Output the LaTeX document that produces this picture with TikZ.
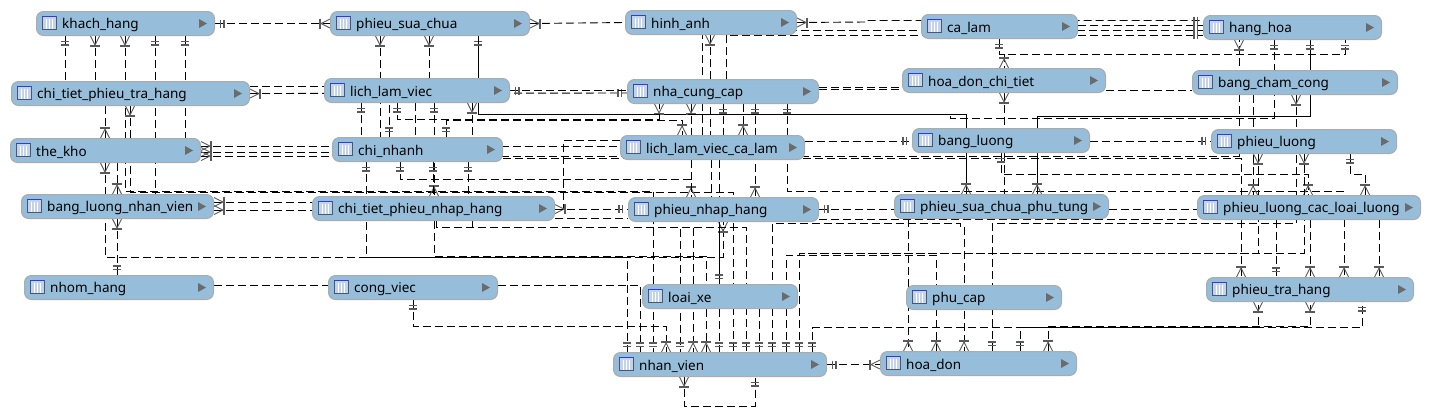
\documentclass[tikz,border=0pt]{standalone}
\usepackage{fontspec}
\setmainfont{Noto Sans}
\usepackage{xcolor}
\usetikzlibrary{backgrounds,calc}

\definecolor{tabfill}{HTML}{96BEDA}
\definecolor{tabedge}{HTML}{ABABAB}
\definecolor{tabmark}{HTML}{6B6B6B}
\definecolor{tipgray}{HTML}{5A5A5A}
\definecolor{iconbar}{HTML}{2F3CD8}
\definecolor{iconfill}{HTML}{C4D3EC}
\definecolor{iconline}{HTML}{4A5672}

\tikzset{
  tabbox/.style={draw=tabedge,fill=tabfill,rounded corners=7pt,line width=1pt,
    minimum height=24pt,inner sep=0pt,anchor=north west},
  tabtext/.style={anchor=west,inner sep=0pt,font=\fontsize{13.5}{15}\selectfont,text=black},
  rel/.style={line width=0.9pt,dash pattern=on 8pt off 4pt},
  S/.style={rotate=-90},N/.style={rotate=90},E/.style={rotate=0},W/.style={rotate=180},
  crow/.pic={
    \draw[tipgray,line width=0.9pt,solid] (0,4.5) -- (9,0) -- (0,-4.5);
    \draw[tipgray,line width=1.3pt,solid] (10,5) -- (10,-5);
  },
  ones/.pic={
    \draw[tipgray,line width=1.1pt,solid] (5.5,4) -- (5.5,-4) (9,4) -- (9,-4);
  },
  tabicon/.pic={
    \fill[iconfill] (6,-7) rectangle (20,6);
    \foreach \gx in {10,13,16} \draw[white,line width=0.8pt] (\gx,-5) -- (\gx,6);
    \draw[iconline,line width=0.9pt] (6,-7) rectangle (20,6);
    \draw[iconbar,line width=1.6pt] (6,-7) -- (20,-7);
  },
  tabarrow/.pic={
    \fill[tabmark] (-16,-4.5) -- (-8,0) -- (-16,4.5) -- cycle;
  }
}
% one table of the model: name, left, top, width
\newcommand{\tabnode}[4]{
  \node[tabbox,minimum width=#4pt] (#1) at (#2,#3) {};
  \node[tabtext] (#1_t) at ($(#1.west)+(26,1.8)$) {\detokenize{#1}};
  \pic at (#1.west) {tabicon};
  \pic at (#1.east) {tabarrow};
}

\begin{document}
\begin{tikzpicture}[x=1pt,y=-1pt]
  \useasboundingbox (0,0) rectangle (1430,416);
  \tabnode{khach_hang}{36}{11}{178}
  \tabnode{phieu_sua_chua}{330}{11}{199}
  \tabnode{hinh_anh}{625}{10}{171}
  \tabnode{ca_lam}{921}{14}{156}
  \tabnode{hang_hoa}{1203}{15}{178}
  \tabnode{chi_tiet_phieu_tra_hang}{11}{81}{238}
  \tabnode{lich_lam_viec}{324}{78}{185}
  \tabnode{nha_cung_cap}{627}{79}{191}
  \tabnode{hoa_don_chi_tiet}{902}{68}{203}
  \tabnode{bang_cham_cong}{1192}{70}{205}
  \tabnode{the_kho}{10}{138}{190}
  \tabnode{chi_nhanh}{332}{137}{170}
  \tabnode{lich_lam_viec_ca_lam}{620}{135}{184}
  \tabnode{bang_luong}{912}{128}{177}
  \tabnode{phieu_luong}{1211}{129}{185}
  \tabnode{bang_luong_nhan_vien}{21}{194}{192}
  \tabnode{chi_tiet_phieu_nhap_hang}{312}{196}{242}
  \tabnode{phieu_nhap_hang}{628}{197}{190}
  \tabnode{phieu_sua_chua_phu_tung}{894}{194}{214}
  \tabnode{phieu_luong_cac_loai_luong}{1197}{195}{223}
  \tabnode{nhom_hang}{24}{275}{189}
  \tabnode{cong_viec}{328}{275}{169}
  \tabnode{loai_xe}{642}{284}{155}
  \tabnode{phu_cap}{906}{285}{155}
  \tabnode{phieu_tra_hang}{1206}{277}{207}
  \tabnode{nhan_vien}{613}{352}{213}
  \tabnode{hoa_don}{880}{351}{196}

  \begin{scope}[on background layer]
  % top row
  \draw[rel] (khach_hang.east) pic[E]{ones} -- (phieu_sua_chua.west) pic[W]{crow};
  \draw[rel] (phieu_sua_chua.east) pic[E]{crow} -- (hinh_anh.west |- 0,22.5);
  \draw[rel] (hinh_anh.east) pic[E]{crow} -- (866,22) -- (866,20.5) -- (hang_hoa.west |- 0,20.5) pic[W]{ones};
  \draw[rel] (ca_lam.east |- 0,25) -- (hang_hoa.west |- 0,25) pic[W]{ones};
  \draw[rel] (lich_lam_viec_ca_lam.north -| 702,0) -- (702,30) -- (hang_hoa.west |- 0,30) pic[W]{ones};
  \draw[rel] (nha_cung_cap.north -| 726,0) -- (726,35) -- (hang_hoa.west |- 0,35) pic[W]{ones};
  \draw[rel] (hinh_anh.south -| 710,0) pic[S]{crow} -- (lich_lam_viec_ca_lam.north -| 710,0);
  % khach_hang downwards
  \draw[rel] (khach_hang.south -| 65,0) pic[S]{ones} -- (chi_tiet_phieu_tra_hang.north -| 65,0);
  \draw[rel] (khach_hang.south -| 95,0) pic[S]{crow} -- (chi_tiet_phieu_tra_hang.north -| 95,0);
  \draw[rel] (khach_hang.south -| 125,0) pic[S]{crow} -- (125,191) -- (653,191) -- (nhan_vien.north -| 653,0) pic[N]{ones};
  \draw[rel] (khach_hang.south -| 155,0) pic[S]{ones} -- (bang_luong_nhan_vien.north -| 155,0);
  \draw[rel] (khach_hang.south -| 185,0) pic[S]{ones} -- (the_kho.north -| 185,0);
  \draw[rel] (chi_tiet_phieu_tra_hang.south -| 130,0) pic[S]{crow} -- (130,192.5) -- (733,192.5) -- (nhan_vien.north -| 733,0) pic[N]{ones};
  \draw[rel] (chi_tiet_phieu_tra_hang.south -| 105,0) -- (the_kho.north -| 105,0) pic[N]{crow};
  \draw[rel] (the_kho.south -| 105,0) pic[S]{crow} -- (105,257) -- (723,257) -- (phieu_nhap_hang.south -| 723,0) pic[S]{crow};
  \draw[rel] (the_kho.south -| 117,0) -- (bang_luong_nhan_vien.north -| 117,0) pic[N]{crow};
  \draw[rel] (bang_luong_nhan_vien.south -| 117,0) pic[S]{crow} -- (nhom_hang.north -| 117,0) pic[N]{ones};
  % second row, left to right
  \draw[rel] (chi_tiet_phieu_tra_hang.east) pic[E]{crow} -- (nha_cung_cap.west |- 0,93) pic[W]{ones};
  \draw[rel] (chi_tiet_phieu_tra_hang.east |- 0,86) -- (lich_lam_viec.west |- 0,86);
  \draw[rel] (lich_lam_viec.east |- 0,90.5) pic[E]{ones} -- (nha_cung_cap.west |- 0,90.5);
  \draw[rel] (nha_cung_cap.east |- 0,87.5) -- (hoa_don_chi_tiet.west |- 0,87.5);
  \draw[rel] (nha_cung_cap.east |- 0,89.5) -- (hoa_don_chi_tiet.west |- 0,89.5);
  \draw[rel] (hoa_don_chi_tiet.east |- 0,90) -- (bang_cham_cong.west |- 0,90);
  % phieu_sua_chua and lich_lam_viec downwards
  \draw[rel] (phieu_sua_chua.south -| 380,0) pic[S]{crow} -- (chi_nhanh.north -| 380,0);
  \draw[rel] (phieu_sua_chua.south -| 429,0) pic[S]{crow} -- (lich_lam_viec.north -| 429,0);
  \draw[rel,solid] (phieu_sua_chua.south -| 478,0) pic[S]{ones} -- (478,114.5) -- (966,114.5) -- (phieu_sua_chua_phu_tung.north -| 966,0) pic[N]{crow};
  \draw[rel] (lich_lam_viec.south -| 361,0) pic[S]{ones} -- (chi_nhanh.north -| 361,0);
  \draw[rel] (chi_nhanh.north -| 389,0) pic[N]{ones} -- (lich_lam_viec.south -| 389,0);
  \draw[rel] (lich_lam_viec.south -| 397,0) pic[S]{ones} -- (397,119) -- (659,119) -- (nha_cung_cap.south -| 659,0) pic[S]{crow};
  \draw[rel] (lich_lam_viec.south -| 415,0) -- (chi_nhanh.north -| 415,0);
  \draw[rel] (lich_lam_viec.south -| 434,0) pic[S]{ones} -- (chi_tiet_phieu_nhap_hang.north -| 434,0) pic[N]{crow};
  \draw[rel] (lich_lam_viec.south -| 472,0) pic[S]{crow} -- (chi_nhanh.north -| 472,0);
  \draw[rel] (chi_nhanh.north -| 446,0) pic[N]{ones} -- (446,120) -- (682,120) -- (lich_lam_viec_ca_lam.north -| 682,0) pic[N]{crow};
  % third row, left to right
  \draw[rel] (the_kho.east |- 0,146) pic[E]{crow} -- (lich_lam_viec_ca_lam.west |- 0,146);
  \draw[rel] (the_kho.east |- 0,152) pic[E]{crow} -- (chi_nhanh.west |- 0,152);
  \draw[rel] (the_kho.east |- 0,156) pic[E]{crow} -- (1239,156) -- (hang_hoa.south -| 1239,0) pic[S]{crow};
  \draw[rel] (chi_nhanh.east |- 0,158) -- (1241,158) -- (phieu_luong_cac_loai_luong.north -| 1241,0);
  \draw[rel] (lich_lam_viec_ca_lam.east |- 0,141) -- (bang_luong.west |- 0,141) pic[W]{ones};
  \draw[rel] (bang_luong.east |- 0,141) -- (phieu_luong.west |- 0,141) pic[W]{ones};
  \draw[rel] (lich_lam_viec_ca_lam.west |- 0,140.5) -- (563,140.5) -- (563,209) -- (chi_tiet_phieu_nhap_hang.east |- 0,209) pic[E]{crow};
  % chi_nhanh downwards
  \draw[rel] (chi_nhanh.south -| 366,0) pic[S]{ones} -- (366,257) -- (627,257) -- (nhan_vien.north -| 627,0) pic[N]{ones};
  \draw[rel] (chi_nhanh.south -| 400,0) pic[S]{ones} -- (400,179) -- (691,179) -- (phieu_nhap_hang.north -| 691,0) pic[N]{crow};
  \draw[rel] (chi_nhanh.south -| 433,0) pic[S]{ones} -- (chi_tiet_phieu_nhap_hang.north -| 433,0);
  \draw[rel] (chi_nhanh.south -| 468,0) pic[S]{ones} -- (chi_tiet_phieu_nhap_hang.north -| 468,0);
  % nha_cung_cap downwards
  \draw[rel] (nha_cung_cap.south -| 691,0) pic[S]{crow} -- (lich_lam_viec_ca_lam.north -| 691,0);
  \draw[rel] (nha_cung_cap.south -| 723,0) pic[S]{ones} -- (lich_lam_viec_ca_lam.north -| 723,0);
  \draw[rel] (nha_cung_cap.south -| 743,0) -- (lich_lam_viec_ca_lam.north -| 743,0) pic[N]{crow};
  \draw[rel] (nha_cung_cap.south -| 755,0) pic[S]{ones} -- (phieu_nhap_hang.north -| 755,0) pic[N]{crow};
  \draw[rel] (nha_cung_cap.south -| 787,0) pic[S]{ones} -- (787,191) -- (1344,191) -- (phieu_tra_hang.north -| 1344,0) pic[N]{crow};
  \draw[rel] (lich_lam_viec_ca_lam.south -| 691,0) -- (phieu_nhap_hang.north -| 691,0);
  \draw[rel] (lich_lam_viec_ca_lam.south -| 711,0) -- (phieu_nhap_hang.north -| 711,0);
  \draw[rel] (lich_lam_viec_ca_lam.south -| 719,0) -- (phieu_nhap_hang.north -| 719,0);
  % hang_hoa and ca_lam
  \draw[rel] (ca_lam.south -| 999,0) pic[S]{ones} -- (999,54) -- (1345,54) -- (hang_hoa.south -| 1345,0) pic[S]{ones};
  \draw[rel] (1004,54) -- (hoa_don_chi_tiet.north -| 1004,0) pic[N]{crow};
  \draw[rel] (hang_hoa.south -| 1274,0) pic[S]{ones} -- (1274,118) -- (950,118) -- (950,114.5) -- (478,114.5) -- (phieu_sua_chua.south -| 478,0);
  \draw[rel,solid] (hang_hoa.south -| 1310,0) pic[S]{ones} -- (1310,116.5) -- (1037,116.5) -- (phieu_sua_chua_phu_tung.north -| 1037,0) pic[N]{crow};
  \draw[rel] (hoa_don_chi_tiet.south -| 1004,0) pic[S]{crow} -- (phieu_sua_chua_phu_tung.north -| 1004,0);
  \draw[rel] (bang_luong.south -| 1001,0) pic[S]{ones} -- (1001,174) -- (1308,174) -- (phieu_luong_cac_loai_luong.north -| 1308,0) pic[N]{crow};
  \draw[rel] (bang_cham_cong.south -| 1253,0) -- (phieu_luong_cac_loai_luong.north -| 1253,0) pic[N]{crow};
  \draw[rel] (bang_cham_cong.south -| 1296,0) pic[S]{crow} -- (1296,223.5) -- (992,223.5) -- (hoa_don.north -| 992,0) pic[N]{ones};
  \draw[rel] (phieu_luong.south -| 1350,0) pic[S]{ones} -- (1350,174) -- (1365,174) -- (phieu_luong_cac_loai_luong.north -| 1365,0) pic[N]{crow};
  % fourth row
  \draw[rel] (bang_luong_nhan_vien.east |- 0,202) pic[E]{crow} -- (chi_tiet_phieu_nhap_hang.west |- 0,202);
  \draw[rel] (bang_luong_nhan_vien.east |- 0,210) pic[E]{crow} -- (chi_tiet_phieu_nhap_hang.west |- 0,210);
  \draw[rel] (chi_tiet_phieu_nhap_hang.east |- 0,209) -- (phieu_nhap_hang.west |- 0,209) pic[W]{ones};
  \draw[rel] (chi_tiet_phieu_nhap_hang.east |- 0,218.5) -- (phieu_nhap_hang.west |- 0,218.5);
  \draw[rel] (phieu_nhap_hang.east |- 0,209) pic[E]{ones} -- (phieu_sua_chua_phu_tung.west |- 0,209);
  \draw[rel] (phieu_sua_chua_phu_tung.east |- 0,209) -- (phieu_luong_cac_loai_luong.west |- 0,209);
  \draw[rel] (phieu_nhap_hang.east |- 0,219.5) -- (phieu_luong_cac_loai_luong.west |- 0,219.5);
  % chi_tiet_phieu_nhap_hang downwards
  \draw[rel] (chi_tiet_phieu_nhap_hang.south -| 434,0) -- (434,256) -- (706,256) -- (nhan_vien.north -| 706,0) pic[N]{crow};
  \draw[rel] (chi_tiet_phieu_nhap_hang.south -| 436,0) -- (436,227) -- (693,227) -- (nhan_vien.north -| 693,0) pic[N]{crow};
  \draw[rel] (chi_tiet_phieu_nhap_hang.south -| 436,0) -- (436,227) -- (680,227) -- (nhan_vien.north -| 680,0) pic[N]{ones};
  \draw[rel] (chi_tiet_phieu_nhap_hang.south -| 472,0) -- (472,227.5) -- (746,227.5) -- (nhan_vien.north -| 746,0) pic[N]{ones};
  % nhom_hang, cong_viec, loai_xe
  \draw[rel] (nhom_hang.east |- 0,285) -- (cong_viec.west |- 0,285);
  \draw[rel] (cong_viec.east |- 0,285) -- (640,285) -- (nhan_vien.north -| 640,0) pic[N]{ones};
  \draw[rel] (cong_viec.south -| 413,0) pic[S]{ones} -- (413,326.5) -- (666,326.5) -- (nhan_vien.north -| 666,0) pic[N]{crow};
  \draw[rel,solid] (phieu_nhap_hang.south -| 719,0) -- (loai_xe.north -| 719,0) pic[N]{ones};
  \draw[rel] (loai_xe.south -| 719,0) -- (nhan_vien.north -| 719,0) pic[N]{ones};
  \draw[rel] (loai_xe.south -| 759,0) -- (nhan_vien.north -| 759,0) pic[N]{ones};
  % nhan_vien
  \draw[rel] (nhan_vien.north -| 772,0) pic[N]{ones} -- (772,223.5) -- (960,223.5) -- (960,226) -- (964,226) -- (hoa_don.north -| 964,0) pic[N]{crow};
  \draw[rel] (nhan_vien.north -| 786,0) pic[N]{ones} -- (786,255) -- (936,255) -- (hoa_don.north -| 936,0) pic[N]{crow};
  \draw[rel] (nhan_vien.north -| 799,0) pic[N]{ones} -- (799,253) -- (1304,253) -- (phieu_luong.south -| 1304,0) pic[S]{crow};
  \draw[rel] (phieu_luong.south -| 1258,0) pic[S]{crow} -- (1258,253) -- (799,253);
  \draw[rel] (nhan_vien.north -| 812,0) pic[N]{ones} -- (812,327.5) -- (1362,327.5) -- (phieu_tra_hang.south -| 1362,0) pic[S]{ones};
  \draw[rel] (nhan_vien.east) pic[E]{ones} -- (hoa_don.west |- nhan_vien.east) pic[W]{crow};
  \draw[rel] (nhan_vien.south -| 684,0) pic[S]{crow} -- (684,406) -- (755,406) -- (nhan_vien.south -| 755,0) pic[S]{ones};
  % hoa_don and phieu_tra_hang
  \draw[rel] (phieu_sua_chua_phu_tung.south -| 908,0) -- (hoa_don.north -| 908,0) pic[N]{crow};
  \draw[rel] (hoa_don.north -| 1020,0) pic[N]{ones} -- (1020,327) -- (1258,327) -- (phieu_tra_hang.south -| 1258,0) pic[S]{crow};
  \draw[rel] (hoa_don.north -| 1048,0) pic[N]{crow} -- (1048,326.5) -- (1310,326.5) -- (phieu_tra_hang.south -| 1310,0) pic[S]{crow};
  \draw[rel] (phieu_luong_cac_loai_luong.south -| 1241,0) -- (phieu_tra_hang.north -| 1241,0) pic[N]{crow};
  \draw[rel] (phieu_luong_cac_loai_luong.south -| 1276,0) -- (phieu_tra_hang.north -| 1276,0) pic[N]{ones};
  \draw[rel] (phieu_luong_cac_loai_luong.south -| 1310,0) -- (phieu_tra_hang.north -| 1310,0) pic[N]{crow};
  \draw[rel] (phieu_luong_cac_loai_luong.south -| 1379,0) -- (phieu_tra_hang.north -| 1379,0) pic[N]{crow};
  \end{scope}
\end{tikzpicture}
\end{document}
